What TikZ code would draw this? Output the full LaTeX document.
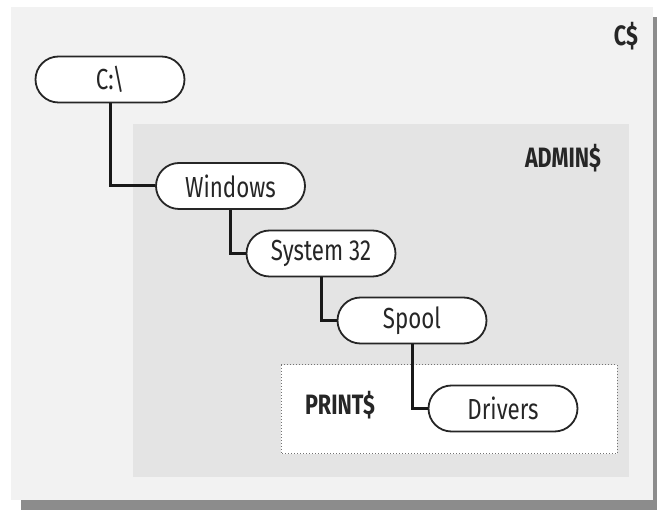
\documentclass[tikz,border=0pt]{standalone}
\usepackage{fontspec}
\setmainfont[FakeStretch=0.77]{Fira Sans}
\definecolor{shadowgray}{HTML}{8C8C8C}
\definecolor{outerfill}{HTML}{F2F2F2}
\definecolor{adminfill}{HTML}{E4E4E4}
\definecolor{textgray}{HTML}{262626}
\begin{document}
\begin{tikzpicture}[x=1pt,y=-1pt,
  folder/.style={draw=black!85,line width=1.8pt,fill=white,rounded corners=23pt,
    minimum width=149pt,minimum height=46pt,inner sep=0pt,text=textgray,
    font=\fontsize{29}{31}\selectfont},
  sharelabel/.style={font=\bfseries\fontsize{28}{30}\selectfont,inner sep=0pt,text=textgray},
  link/.style={line width=3pt,black!90}]
\useasboundingbox (0,0) rectangle (657,510);
\fill[white] (0,0) rectangle (657,510);
\begin{scope}
  \clip (0,0) rectangle (657,510);
  \fill[shadowgray] (21,17) rectangle (670,510);
\end{scope}
% C$ share
\fill[outerfill] (11,7) rectangle (653,500);
\node[sharelabel] (cshare) at (626,36) {C\$};
% ADMIN$ share
\fill[adminfill] (133,124) rectangle (629,477);
\node[sharelabel] (adminshare) at (563,158) {ADMIN\$};
% PRINT$ share
\draw[fill=white,draw=black!55,line width=1pt,dotted] (281,365) rectangle (617,454);
\node[sharelabel] (printshare) at (340,405) {PRINT\$};
% folders
\node[folder] (croot) at (110,79.5) {C:\textbackslash};
\node[folder] (windows) at (230.5,186) {Windows};
\node[folder] (system) at (321,253.5) {System 32};
\node[folder] (spool) at (412,320.5) {Spool};
\node[folder] (drivers) at (503,408.5) {Drivers};
% connectors
\draw[link] (croot.south) |- (windows.west);
\draw[link] (windows.south) |- (system.west);
\draw[link] (system.south) |- (spool.west);
\draw[link] (spool.south) |- (drivers.west);
\end{tikzpicture}
\end{document}
